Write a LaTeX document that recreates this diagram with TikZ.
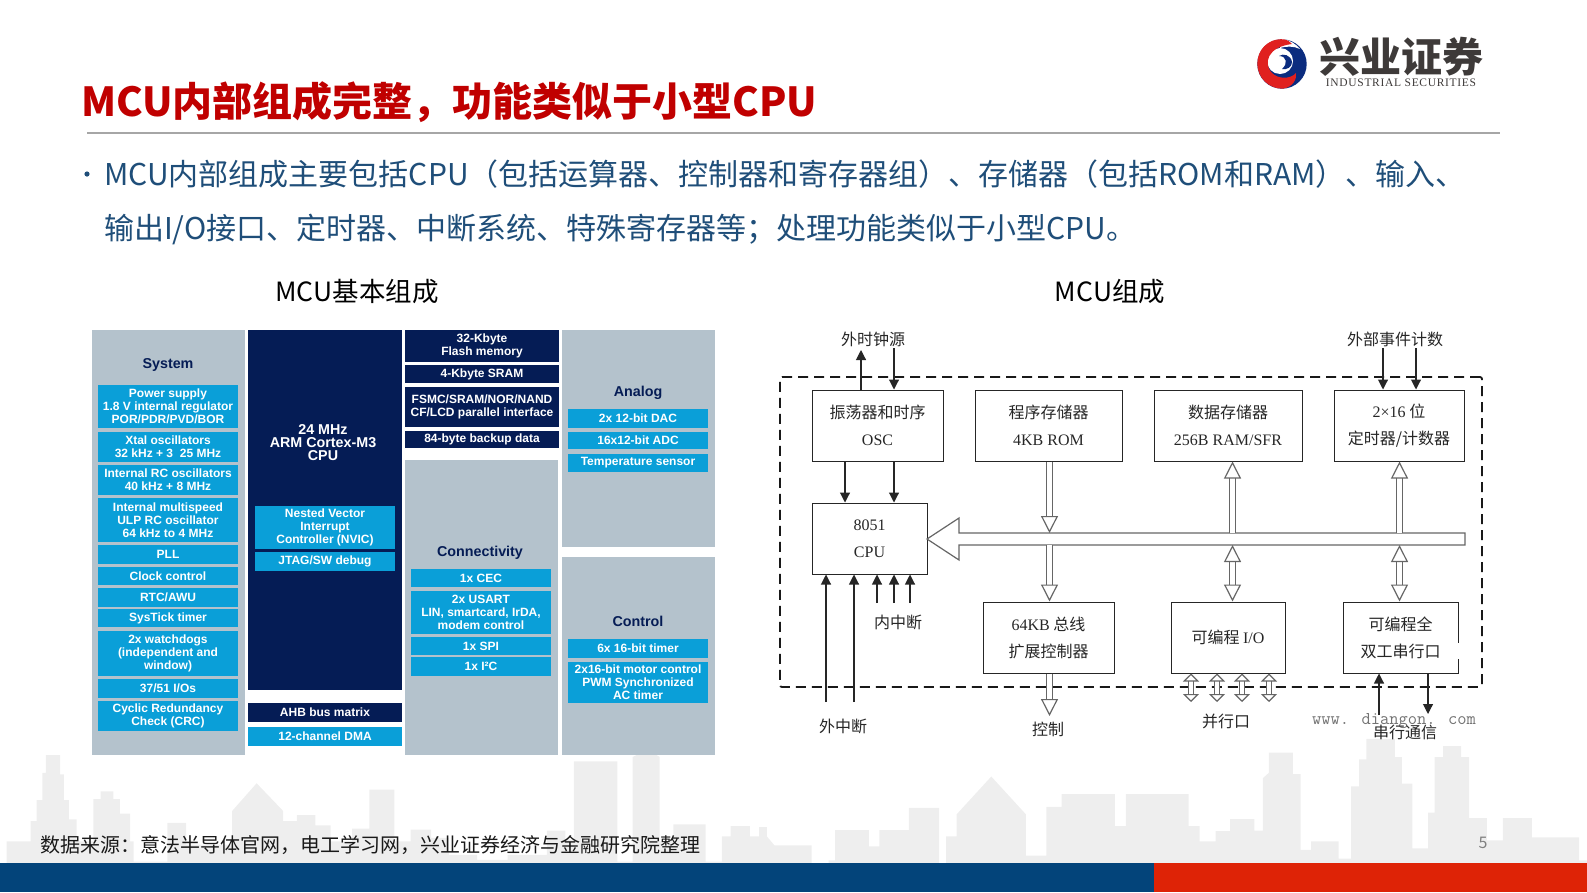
\documentclass[tikz,border=0pt]{standalone}
\usepackage{fontspec}
\setmainfont{Noto Sans CJK SC}
\newfontfamily\armfont{Liberation Sans}
\newfontfamily\romfont{Liberation Serif}
\newfontfamily\logofont[LetterSpace=6]{Liberation Serif}
\usetikzlibrary{arrows.meta}
\definecolor{barblue}{HTML}{03447A}
\definecolor{barred}{HTML}{DE2306}
\definecolor{skygray}{HTML}{EEEEEE}
\definecolor{panelgray}{HTML}{B4C2CC}
\definecolor{chipblue}{HTML}{0A9FD8}
\definecolor{chipnavy}{HTML}{051C55}
\definecolor{titlered}{HTML}{C00000}
\definecolor{bodyblue}{HTML}{1F4E79}
\definecolor{logored}{HTML}{E0201F}
\definecolor{logoblue}{HTML}{0B2C7F}
\definecolor{logotext}{HTML}{3E3A39}
\tikzset{
  chipbox/.style={inner sep=0pt,align=center,text=white,font=\armfont\bfseries\fontsize{12}{13}\selectfont},
  bluebox/.style={chipbox,fill=chipblue},
  navybox/.style={chipbox,fill=chipnavy},
  paneltitle/.style={inner sep=0pt,text=chipnavy,font=\armfont\bfseries\fontsize{14.3}{14.3}\selectfont},
  blockbox/.style={draw=black!85,line width=1pt,inner sep=0pt,align=center,text=black!85,font=\fontsize{16}{27}\selectfont},
  blocklabel/.style={inner sep=0pt,text=black!85,font=\fontsize{16}{16}\selectfont},
  sig/.style={->,>={Triangle[length=10pt,width=10pt]},line width=1.1pt,color=black!85},
  hollow/.style={>={Triangle[length=17pt,width=17pt,fill=white,line width=1.2pt]},draw=black!60,line width=1.2pt,double=white,double distance=5.5pt},
  hollowsmall/.style={>={Triangle[length=8pt,width=16pt,fill=white,line width=1.2pt]},draw=black!60,line width=1.1pt,double=white,double distance=3.5pt},
}
\begin{document}
\begin{tikzpicture}[x=1pt,y=-1pt]
  \useasboundingbox (0,0) rectangle (1587,892);
  % skyline
  \begin{scope}[shift={(0,740)},x=0.5102pt,y=-0.3378pt]
    \fill[skygray] (13,365) -- (13,300) -- (60,300) -- (60,240) -- (72,240) -- (72,178) -- (83,178) -- (83,97) -- (90,97) -- (90,45) -- (118,45) -- (118,102) -- (125,102) -- (125,178) -- (135,178) -- (135,235) -- (150,235) -- (150,300) -- (183,300) -- (183,175) -- (197,175) -- (197,152) -- (222,152) -- (222,175) -- (235,175) -- (235,218) -- (255,218) -- (255,300) -- (262,300) -- (262,360) -- (328,360) -- (328,245) -- (365,245) -- (365,310) -- (455,310) -- (455,210) -- (503,128) -- (555,210) -- (555,240) -- (582,240) -- (582,222) -- (618,222) -- (618,253) -- (648,253) -- (648,300) -- (690,300) -- (690,262) -- (724,262) -- (724,147) -- (773,147) -- (773,300) -- (805,300) -- (805,265) -- (845,265) -- (845,290) -- (880,290) -- (880,340) -- (935,340) -- (935,355) -- (995,355) -- (995,340) -- (1072,340) -- (1072,268) -- (1108,268) -- (1108,295) -- (1125,295) -- (1125,63) -- (1210,63) -- (1210,360) -- (1240,360) -- (1240,50) -- (1250,43) -- (1285,43) -- (1293,50) -- (1293,300) -- (1320,300) -- (1320,250) -- (1383,250) -- (1383,360) -- (1415,360) -- (1415,285) -- (1432,285) -- (1432,255) -- (1470,255) -- (1470,285) -- (1488,285) -- (1488,258) -- (1503,258) -- (1503,285) -- (1518,312) -- (1568,312) -- (1568,365) -- cycle;
  \end{scope}
  \begin{scope}[shift={(800,740)},x=0.502pt,y=-0.3378pt]
    \fill[skygray] (0,365) -- (0,312) -- (23,312) -- (23,365) -- (57,365) -- (57,356) -- (70,356) -- (70,267) -- (137,267) -- (137,315) -- (158,315) -- (158,267) -- (217,267) -- (217,201) -- (277,201) -- (277,365) -- (291,365) -- (291,285) -- (312,285) -- (312,220) -- (381,108) -- (450,220) -- (450,342) -- (491,342) -- (491,198) -- (521,198) -- (521,160) -- (627,160) -- (627,255) -- (649,255) -- (649,160) -- (774,160) -- (774,255) -- (796,255) -- (796,300) -- (828,300) -- (828,270) -- (857,270) -- (857,234) -- (905,234) -- (905,268) -- (922,268) -- (922,113) -- (934,97) -- (934,37) -- (982,37) -- (982,101) -- (997,101) -- (997,325) -- (1018,325) -- (1018,300) -- (1073,300) -- (1073,351) -- (1098,351) -- (1098,137) -- (1114,137) -- (1114,57) -- (1128,57) -- (1128,-3) -- (1185,-3) -- (1185,51) -- (1199,51) -- (1199,129) -- (1220,129) -- (1220,321) -- (1251,321) -- (1251,215) -- (1264,215) -- (1264,51) -- (1281,51) -- (1281,18) -- (1317,18) -- (1317,51) -- (1333,51) -- (1333,231) -- (1368,231) -- (1368,297) -- (1400,297) -- (1400,231) -- (1458,231) -- (1458,288) -- (1552,288) -- (1552,356) -- (1568,356) -- (1568,365) -- cycle;
  \end{scope}
  \fill[barblue] (0,863) rectangle (1154,892);
  \fill[barred] (1154,863) rectangle (1587,892);
  \node[inner sep=0pt,text=black!50,font=\fontsize{16}{16}\selectfont] (pagenum) at (1483,843) {5};
  \node[inner sep=0pt,anchor=west,text=black!90,font=\fontsize{20}{20}\selectfont] (source) at (40,845) {数据来源：意法半导体官网，电工学习网，兴业证券经济与金融研究院整理};

  % header
  \node[inner sep=0pt,anchor=west,text=titlered,font=\bfseries\fontsize{40}{40}\selectfont] (title) at (81,102) {MCU内部组成完整，功能类似于小型CPU};
  \draw[black!35,line width=1.2pt] (87,133) -- (1500,133);
  \fill[logoblue] (1282,64) circle (24.7);
  \fill[white] (1280,61) circle (13) (1282,39) .. controls (1290,40) and (1296,44) .. (1300,49) .. controls (1294,46) and (1286,46) .. (1280,48) -- cycle;
  \fill[logored] (1284,39.3) .. controls (1267,38) and (1257,51) .. (1257.3,64) .. controls (1257.5,78) and (1269,89) .. (1283,88.7) .. controls (1293,87) and (1297,79) .. (1296,73) .. controls (1291,79) and (1278,80) .. (1271,72) .. controls (1264,63) and (1267,47) .. (1292,44) .. controls (1290,41) and (1287,40) .. (1284,39.3) -- cycle;
  \fill[logoblue] (1292,62) .. controls (1291,55) and (1283,53) .. (1279,56) .. controls (1287,56) and (1288,64) .. (1282,69) .. controls (1287,70) and (1292,67) .. (1292,62) -- cycle;
  \node[inner sep=0pt,text=logotext,font=\bfseries\fontsize{41}{41}\selectfont] (logocn) at (1401,57) {兴业证券};
  \node[inner sep=0pt,text=logotext,font=\logofont\fontsize{11.5}{11.5}\selectfont] (logoen) at (1401,83) {INDUSTRIAL SECURITIES};

  \fill[bodyblue] (87,174) circle (2.6);
  \node[inner sep=0pt,anchor=west,text=bodyblue,font=\fontsize{30}{30}\selectfont] (lineone) at (104,174) {MCU内部组成主要包括CPU（包括运算器、控制器和寄存器组）、存储器（包括ROM和RAM）、输入、};
  \node[inner sep=0pt,anchor=west,text=bodyblue,font=\fontsize{30}{30}\selectfont] (linetwo) at (104,229) {输出I/O接口、定时器、中断系统、特殊寄存器等；处理功能类似于小型CPU。};
  \node[inner sep=0pt,text=black,font=\fontsize{26.5}{26.5}\selectfont] (subleft) at (357,292) {MCU基本组成};
  \node[inner sep=0pt,text=black,font=\fontsize{26.5}{26.5}\selectfont] (subright) at (1110,292) {MCU组成};

  % left chip picture
  \foreach \xa/\ya/\xb/\yb in {92/330/245/755,405/460/558/755,562/330/715/547,562/557/715/755}
    \fill[panelgray] (\xa,\ya) rectangle (\xb,\yb);
  \fill[chipnavy] (248,330) rectangle (402,690);
  \node[paneltitle] (systitle) at (168,365) {System};
  \node[paneltitle] (contitle) at (480,553) {Connectivity};
  \node[paneltitle] (anatitle) at (638,393) {Analog};
  \node[paneltitle] (ctltitle) at (638,621) {Control};
  \node[inner sep=0pt,align=center,text=white,font=\armfont\bfseries\fontsize{14.3}{13}\selectfont] (cputext) at (323,443) {24 MHz\\ARM Cortex-M3\\CPU};

  \foreach \nm/\ya/\yb/\lbl in {
      pwr/385/428/{Power supply\\1.8 V internal regulator\\POR/PDR/PVD/BOR},
      xtal/432/462/{Xtal oscillators\\32 kHz + 3 ~25 MHz},
      rcosc/465/495/{Internal RC oscillators\\40 kHz + 8 MHz},
      ulp/498/542/{Internal multispeed\\ULP RC oscillator\\64 kHz to 4 MHz},
      pll/545/564/{PLL},
      clk/567/585/{Clock control},
      rtc/588/607/{RTC/AWU},
      tick/609/627/{SysTick timer},
      wdg/631/676/{2x watchdogs\\(independent and\\window)},
      gpio/679/698/{37/51 I/Os},
      crc/701/731/{Cyclic Redundancy\\Check (CRC)}}{
    \pgfmathsetmacro\hh{\yb-\ya}
    \node[bluebox,minimum width=140pt,minimum height=\hh pt] (\nm) at (168,{(\ya+\yb)/2}) {\lbl};
  }
  \foreach \nm/\ya/\yb/\lbl in {
      nvic/506/549/{Nested Vector\\Interrupt\\Controller (NVIC)},
      jtag/552/571/{JTAG/SW debug}}{
    \pgfmathsetmacro\hh{\yb-\ya}
    \node[bluebox,minimum width=140pt,minimum height=\hh pt] (\nm) at (325,{(\ya+\yb)/2}) {\lbl};
  }
  \node[navybox,minimum width=154pt,minimum height=19pt] (ahb) at (325,712.5) {AHB bus matrix};
  \node[bluebox,minimum width=154pt,minimum height=19pt] (dma) at (325,736.5) {12-channel DMA};
  \foreach \nm/\ya/\yb/\lbl in {
      flash/330/362/{32-Kbyte\\Flash memory},
      sram/365/383/{4-Kbyte SRAM},
      fsmc/387/427/{FSMC/SRAM/NOR/NAND\\CF/LCD parallel interface},
      bkp/431/448/{84-byte backup data}}{
    \pgfmathsetmacro\hh{\yb-\ya}
    \node[navybox,minimum width=154pt,minimum height=\hh pt] (\nm) at (482,{(\ya+\yb)/2}) {\lbl};
  }
  \foreach \nm/\ya/\yb/\lbl in {
      cec/569/587/{1x CEC},
      usart/591/634/{2x USART\\LIN, smartcard, IrDA,\\modem control},
      spi/637/655/{1x SPI},
      icc/657/676/{1x I²C}}{
    \pgfmathsetmacro\hh{\yb-\ya}
    \node[bluebox,minimum width=140pt,minimum height=\hh pt] (\nm) at (481,{(\ya+\yb)/2}) {\lbl};
  }
  \foreach \nm/\ya/\yb/\lbl in {
      dac/409/428/{2x 12-bit DAC},
      adc/432/449/{16x12-bit ADC},
      temp/454/472/{Temperature sensor},
      tim/639/658/{6x 16-bit timer},
      pwm/662/703/{2x16-bit motor control\\PWM Synchronized\\AC timer}}{
    \pgfmathsetmacro\hh{\yb-\ya}
    \node[bluebox,minimum width=140pt,minimum height=\hh pt] (\nm) at (638,{(\ya+\yb)/2}) {\lbl};
  }

  % right block picture
  \node[draw=black!90,line width=1.8pt,dash pattern=on 10pt off 6pt,rounded corners=2pt,inner sep=0pt,minimum width=702pt,minimum height=310pt] (mcu) at (1131,532) {};
  \foreach \nm/\xa/\xb/\ya/\yb/\lbl in {
      osc/812/943/390/461/{振荡器和时序\\{\romfont OSC}},
      rom/975/1122/390/461/{程序存储器\\{\romfont 4KB ROM}},
      ram/1154/1302/390/461/{数据存储器\\{\romfont 256B RAM/SFR}},
      cnt/1334/1464/390/461/{{\romfont 2×16} 位\\定时器/计数器},
      cpu/812/927/503/574/{{\romfont 8051}\\{\romfont CPU}},
      ext/983/1114/602/673/{{\romfont 64KB} 总线\\扩展控制器},
      pio/1171/1285/602/673/{可编程 {\romfont I/O}},
      ser/1343/1458/602/673/{可编程全\\双工串行口}}{
    \pgfmathsetmacro\ww{\xb-\xa}
    \pgfmathsetmacro\hh{\yb-\ya}
    \node[blockbox,minimum width=\ww pt,minimum height=\hh pt] (\nm) at ({(\xa+\xb)/2},{(\ya+\yb)/2}) {\lbl};
  }
  \draw[white,line width=2.5pt] ([yshift=-5pt]ser.east) -- ([yshift=-21pt]ser.east);

  \node[blocklabel] (clksrc) at (873,339) {外时钟源};
  \node[blocklabel] (evtcnt) at (1395,339) {外部事件计数};
  \node[blocklabel] (irqin) at (898,622) {内中断};
  \node[blocklabel] (irqext) at (843,726) {外中断};
  \node[blocklabel] (ctl) at (1048,729) {控制};
  \node[blocklabel] (port) at (1226,721) {并行口};
  \node[inner sep=0pt,text=black!55,font=\ttfamily\fontsize{18}{18}\selectfont] (site) at (1394,721) {www. diangon. com};
  \node[blocklabel] (serial) at (1405,732) {串行通信};

  % thin signals
  \coordinate (clkout) at (861,350);
  \coordinate (clkin) at (894,348);
  \coordinate (evta) at (1383,348);
  \coordinate (evtb) at (1416,348);
  \coordinate (oscl) at (845,461);
  \coordinate (oscr) at (894,461);
  \coordinate (rxd) at (1379,715);
  \coordinate (txd) at (1428,714);
  \draw[sig] (clkout |- osc.north) -- (clkout);
  \draw[sig] (clkin) -- (clkin |- osc.north);
  \draw[sig] (evta) -- (evta |- cnt.north);
  \draw[sig] (evtb) -- (evtb |- cnt.north);
  \draw[sig] (oscl) -- (oscl |- cpu.north);
  \draw[sig] (oscr) -- (oscr |- cpu.north);
  \foreach \x in {826,854} {
    \coordinate (ex\x) at (\x,702);
    \draw[sig] (ex\x) -- (ex\x |- cpu.south);
  }
  \foreach \x in {877,894,910} {
    \coordinate (in\x) at (\x,603);
    \draw[sig] (in\x) -- (in\x |- cpu.south);
  }
  \draw[sig] (rxd) -- (rxd |- ser.south);
  \draw[sig] (txd |- ser.south) -- (txd);

  % bus
  \draw[draw=black!60,fill=white,line width=1.2pt] (927,539) -- (959,518) -- (959,533) -- (1465,533) -- (1465,545) -- (959,545) -- (959,560) -- cycle;
  \coordinate (bustop) at (1200,533);
  \coordinate (busbot) at (1200,545);
  \coordinate (romx) at (1049.5,0);
  \coordinate (ramx) at (1232.5,0);
  \coordinate (cntx) at (1399.5,0);
  \coordinate (ctlend) at (1049.5,716);
  \draw[hollow,->] (romx |- rom.south) -- (romx |- bustop);
  \draw[hollow,->] (romx |- busbot) -- (romx |- ext.north);
  \draw[hollow,->] (ramx |- bustop) -- (ramx |- ram.south);
  \draw[hollow,->] (cntx |- bustop) -- (cntx |- cnt.south);
  \draw[hollow,<->] (ramx |- busbot) -- (ramx |- pio.north);
  \draw[hollow,<->] (cntx |- busbot) -- (cntx |- ser.north);
  \draw[hollow,->] (ctlend |- ext.south) -- (ctlend);
  \foreach \x in {1191,1217,1242,1269} {
    \coordinate (pt\x) at (\x,702);
    \draw[hollowsmall,<->] (pt\x |- pio.south) -- (pt\x);
  }
\end{tikzpicture}
\end{document}
